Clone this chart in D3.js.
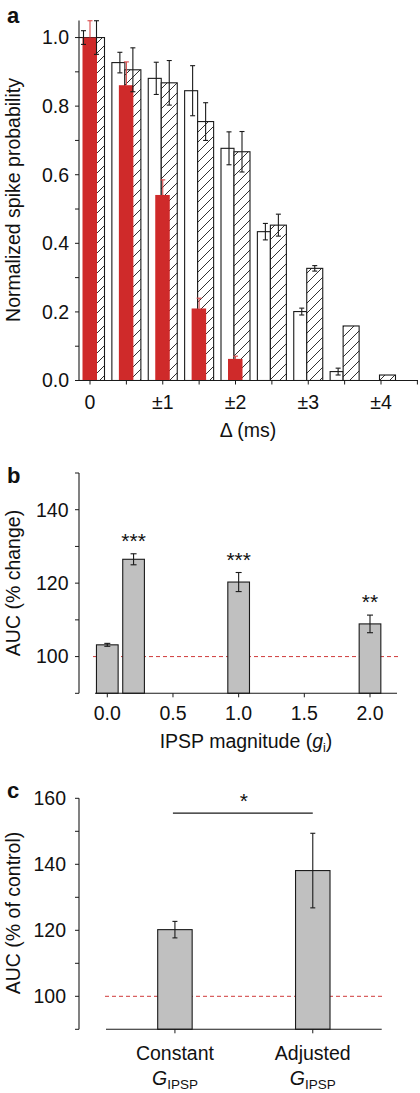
<!DOCTYPE html>
<html><head><meta charset="utf-8">
<script src="https://cdn.jsdelivr.net/npm/d3@7"></script>
<style>
body{margin:0;background:#fff}
text{font-family:"Liberation Sans",Arial,Helvetica,sans-serif;fill:#111}
</style>
</head><body>
<svg id="chart" width="420" height="1093"></svg>
<script>
// ---------- Panel a data ----------
const deltaValues = [0, 0.5, 1, 1.5, 2, 2.5, 3, 3.5, 4];
const deltaTickValues = [0, 1, 2, 3, 4];
const deltaTickLabels = ["0", "±1", "±2", "±3", "±4"];
const openVals  = [1.000, 0.927, 0.881, 0.845, 0.677, 0.434, 0.201, 0.026, 0.000];
const openErr   = [0.020, 0.030, 0.047, 0.073, 0.048, 0.024, 0.010, 0.010, 0.000];
const hatchVals = [1.000, 0.906, 0.868, 0.755, 0.667, 0.453, 0.327, 0.159, 0.016];
const hatchErr  = [0.049, 0.064, 0.065, 0.055, 0.059, 0.032, 0.008, 0.000, 0.000];
const redVals   = [1.000, 0.861, 0.541, 0.210, 0.063];
const redErr    = [0.049, 0.068, 0.044, 0.030, 0.008];
const yTicksA   = [0, 0.2, 0.4, 0.6, 0.8, 1.0];

// ---------- Panel b data ----------
const giValues  = [0.0, 0.2, 1.0, 2.0];
const aucChange = [103.2, 126.5, 120.3, 108.9];
const aucChangeErr = [0.4, 1.5, 2.6, 2.4];
const sigB      = ["", "***", "***", "**"];
const xTicksB   = [0, 0.5, 1.0, 1.5, 2.0];
const yTicksB   = [100, 120, 140];

// ---------- Panel c data ----------
const condNames = ["Constant", "Adjusted"];
const aucControl = [120.2, 138.1];
const aucControlErr = [2.5, 11.3];
const sigC = "*";
const sigCLevel = 155.5;
const yTicksC = [100, 120, 140, 160];

const svg = d3.select("#chart");
const ink = "#1a1a1a";
const redFill = "#cf2a2a";
const redErrCol = "#d94a4a";
const grayFill = "#c0c0c0";
const FS = 19.5;

const defs = svg.append("defs");
const pat = defs.append("pattern").attr("id","hatch").attr("patternUnits","userSpaceOnUse")
  .attr("width",10).attr("height",10);
pat.append("rect").attr("width",10).attr("height",10).attr("fill","#fff");
pat.append("path").attr("d","M-2.5,2.5 L2.5,-2.5 M0,10 L10,0 M7.5,12.5 L12.5,7.5")
  .attr("stroke",ink).attr("stroke-width",0.9);
defs.append("clipPath").attr("id","clipA").append("rect")
  .attr("x",79).attr("y",0).attr("width",341).attr("height",381);

function errBar(g, x, y1, y2, cap, color, sw){
  g.append("line").attr("x1",x).attr("x2",x).attr("y1",y1).attr("y2",y2)
    .attr("stroke",color).attr("stroke-width",sw||1);
  [y1,y2].forEach(y=>g.append("line").attr("x1",x-cap/2).attr("x2",x+cap/2)
    .attr("y1",y).attr("y2",y).attr("stroke",color).attr("stroke-width",sw||1));
}
function yLabel(x, cy, txt){
  svg.append("text").attr("transform",`translate(${x},${cy}) rotate(-90)`)
    .attr("text-anchor","middle").attr("font-size",FS).text(txt);
}
function yAxis(y, x0, minorTicks, labTicks, fmt, labX){
  const g = svg.append("g");
  g.append("line").attr("x1",x0).attr("x2",x0).attr("y1",y.range()[0]).attr("y2",y.range()[1])
    .attr("stroke",ink).attr("stroke-width",1.1);
  minorTicks.forEach(t=>g.append("line").attr("x1",x0-4).attr("x2",x0)
    .attr("y1",y(t)).attr("y2",y(t)).attr("stroke",ink).attr("stroke-width",1));
  labTicks.forEach(t=>g.append("text").attr("x",labX).attr("y",y(t)).attr("dy","0.35em")
    .attr("text-anchor","end").attr("font-size",FS).text(fmt(t)));
}

// ================= Panel a =================
const yA = d3.scaleLinear().domain([0,1.05]).range([380.5,20.4]);
const xA = d3.scaleLinear().domain([0,4]).range([90,381]);
const gA = svg.append("g").attr("clip-path","url(#clipA)");
gA.selectAll(".open").data(deltaValues.map((d,i)=>({d,v:openVals[i]}))).join("rect")
  .attr("x",o=>xA(o.d)-14.5).attr("width",13)
  .attr("y",o=>yA(o.v)).attr("height",o=>yA(0)-yA(o.v))
  .attr("fill","#fff").attr("stroke",ink).attr("stroke-width",1.1);
gA.selectAll(".hat").data(deltaValues.map((d,i)=>({d,v:hatchVals[i]}))).join("rect")
  .attr("x",o=>xA(o.d)-1.5).attr("width",16)
  .attr("y",o=>yA(o.v)).attr("height",o=>yA(0)-yA(o.v))
  .attr("fill","url(#hatch)").attr("stroke",ink).attr("stroke-width",1.1);
gA.selectAll(".red").data(redVals.map((v,i)=>({d:deltaValues[i],v}))).join("rect")
  .attr("x",o=>xA(o.d)-7.5).attr("width",14.5)
  .attr("y",o=>yA(o.v)).attr("height",o=>yA(0)-yA(o.v))
  .attr("fill",redFill);
redVals.forEach((v,i)=>{
  const x = xA(deltaValues[i]);
  gA.append("line").attr("x1",x).attr("x2",x).attr("y1",yA(v)).attr("y2",yA(v+redErr[i]))
    .attr("stroke",redErrCol).attr("stroke-width",1.1);
  gA.append("line").attr("x1",x-2.5).attr("x2",x+2.5).attr("y1",yA(v+redErr[i])).attr("y2",yA(v+redErr[i]))
    .attr("stroke",redErrCol).attr("stroke-width",1.1);
});
deltaValues.forEach((d,i)=>{
  if(openErr[i]>0) errBar(gA, xA(d)-6.5, yA(openVals[i]+openErr[i]), yA(openVals[i]-openErr[i]), 5, ink, 1.1);
  if(hatchErr[i]>0) errBar(gA, xA(d)+6.5, yA(hatchVals[i]+hatchErr[i]), yA(hatchVals[i]-hatchErr[i]), 5, ink, 1.1);
});
yAxis(yA, 79, d3.range(0,1.05,0.1), yTicksA, d3.format(".1f"), 69);
svg.append("line").attr("x1",75).attr("x2",418).attr("y1",yA(0)).attr("y2",yA(0))
  .attr("stroke",ink).attr("stroke-width",1.1);
d3.range(0,4.51,0.5).forEach(t=>svg.append("line").attr("x1",xA(t)).attr("x2",xA(t))
  .attr("y1",yA(0)).attr("y2",yA(0)+4).attr("stroke",ink));
deltaTickValues.forEach((t,i)=>svg.append("text").attr("x",xA(t)).attr("y",408.5)
  .attr("text-anchor","middle").attr("font-size",FS).text(deltaTickLabels[i]));
svg.append("text").attr("x",248).attr("y",437).attr("text-anchor","middle")
  .attr("font-size",FS).text("Δ (ms)");
yLabel(19.5, 200, "Normalized spike probability");
svg.append("text").attr("x",7).attr("y",23).attr("font-size",22).attr("font-weight","bold").text("a");

// ================= Panel b =================
const yB = d3.scaleLinear().domain([90,150]).range([693.3,473]);
const xB = d3.scaleLinear().domain([0,2]).range([107.3,370]);
const bwB = xB(0.165)-xB(0);
const gB = svg.append("g");
gB.append("line").attr("x1",93).attr("x2",398).attr("y1",yB(100)).attr("y2",yB(100))
  .attr("stroke","#d03a3a").attr("stroke-width",1).attr("stroke-dasharray","4,3");
gB.selectAll(".bb").data(giValues.map((g,i)=>({g,v:aucChange[i]}))).join("rect")
  .attr("x",o=>xB(o.g)-bwB/2).attr("width",bwB)
  .attr("y",o=>yB(o.v)).attr("height",o=>yB(90)-yB(o.v))
  .attr("fill",grayFill).attr("stroke",ink).attr("stroke-width",1.1);
giValues.forEach((g,i)=>{
  const top = yB(aucChange[i]+aucChangeErr[i]);
  errBar(gB, xB(g), top, yB(aucChange[i]-aucChangeErr[i]), 6, ink, 1.1);
  if(sigB[i]) gB.append("text").attr("x",xB(g)).attr("y",top-6).attr("text-anchor","middle")
    .attr("font-size",21).text(sigB[i]);
});
yAxis(yB, 79, d3.range(90,151,10), yTicksB, d3.format("d"), 68.5);
svg.append("line").attr("x1",95).attr("x2",397).attr("y1",yB(90)).attr("y2",yB(90))
  .attr("stroke",ink).attr("stroke-width",1.1);
xTicksB.forEach(t=>{
  svg.append("line").attr("x1",xB(t)).attr("x2",xB(t)).attr("y1",yB(90)).attr("y2",yB(90)+4).attr("stroke",ink);
  svg.append("text").attr("x",xB(t)).attr("y",720).attr("text-anchor","middle")
    .attr("font-size",FS).text(d3.format(".1f")(t));
});
const xlb = svg.append("text").attr("x",246).attr("y",748).attr("text-anchor","middle").attr("font-size",FS);
xlb.append("tspan").text("IPSP magnitude (");
xlb.append("tspan").attr("font-style","italic").text("g");
xlb.append("tspan").attr("font-size",12.5).attr("dy",4).text("i");
xlb.append("tspan").attr("dy",-4).text(")");
yLabel(19.5, 583, "AUC (% change)");
svg.append("text").attr("x",7).attr("y",483).attr("font-size",22).attr("font-weight","bold").text("b");

// ================= Panel c =================
const yC = d3.scaleLinear().domain([90,160]).range([1029.3,798.3]);
const xC = d3.scaleBand().domain(condNames).range([106,381.7]).padding(0);
const bwC = xC.bandwidth()*0.25;
const cx = n => xC(n)+xC.bandwidth()/2;
const gC = svg.append("g");
gC.append("line").attr("x1",105).attr("x2",382).attr("y1",yC(100)).attr("y2",yC(100))
  .attr("stroke","#d03a3a").attr("stroke-width",1).attr("stroke-dasharray","4,3");
gC.selectAll(".cb").data(condNames.map((n,i)=>({n,v:aucControl[i]}))).join("rect")
  .attr("x",o=>cx(o.n)-bwC/2).attr("width",bwC)
  .attr("y",o=>yC(o.v)).attr("height",o=>yC(90)-yC(o.v))
  .attr("fill",grayFill).attr("stroke",ink).attr("stroke-width",1.1);
condNames.forEach((n,i)=>errBar(gC, cx(n), yC(aucControl[i]+aucControlErr[i]), yC(aucControl[i]-aucControlErr[i]), 5, ink, 1.1));
gC.append("line").attr("x1",cx(condNames[0])-2).attr("x2",cx(condNames[1])).attr("y1",yC(sigCLevel)).attr("y2",yC(sigCLevel))
  .attr("stroke",ink).attr("stroke-width",1.1);
gC.append("text").attr("x",(cx(condNames[0])+cx(condNames[1]))/2).attr("y",yC(sigCLevel)-5)
  .attr("text-anchor","middle").attr("font-size",21).text(sigC);
yAxis(yC, 79, d3.range(90,161,10), yTicksC, d3.format("d"), 66);
svg.append("line").attr("x1",106).attr("x2",381.7).attr("y1",yC(90)).attr("y2",yC(90))
  .attr("stroke",ink).attr("stroke-width",1.1);
condNames.forEach(n=>{
  svg.append("line").attr("x1",cx(n)).attr("x2",cx(n)).attr("y1",yC(90)).attr("y2",yC(90)+4).attr("stroke",ink);
  svg.append("text").attr("x",cx(n)).attr("y",1059.5).attr("text-anchor","middle").attr("font-size",FS).text(n);
  const t = svg.append("text").attr("x",cx(n)).attr("y",1085).attr("text-anchor","middle").attr("font-size",FS);
  t.append("tspan").attr("font-style","italic").text("G");
  t.append("tspan").attr("font-size",13.5).attr("dy",4).text("IPSP");
});
yLabel(19.5, 913, "AUC (% of control)");
svg.append("text").attr("x",7).attr("y",798).attr("font-size",22).attr("font-weight","bold").text("c");
</script>
</body></html>
